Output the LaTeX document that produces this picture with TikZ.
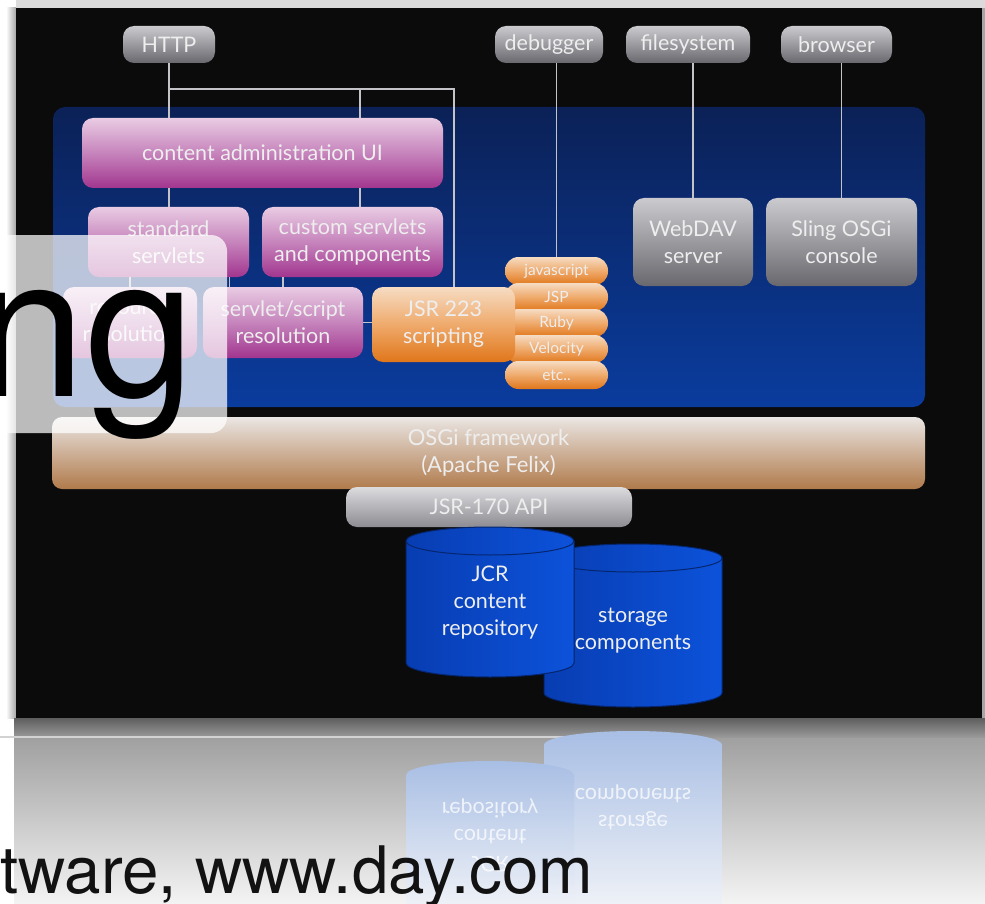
\documentclass[tikz,border=0pt]{standalone}
\usepackage{fontspec}
\setmainfont{Lato}
\newfontfamily\helvfont{TeX Gyre Heros}
\usetikzlibrary{positioning}

\definecolor{slidebg}{HTML}{0B0B0B}
\definecolor{paneltop}{HTML}{0B2157}
\definecolor{panelbot}{HTML}{0A3C9E}
\definecolor{graytop}{HTML}{CBCBCF}
\definecolor{graybot}{HTML}{68686E}
\definecolor{pinktop}{HTML}{E9CBE3}
\definecolor{pinkmid}{HTML}{C684BC}
\definecolor{pinkbot}{HTML}{A2358F}
\definecolor{orantop}{HTML}{F6DCC3}
\definecolor{oranmid}{HTML}{EFAA6C}
\definecolor{oranbot}{HTML}{E0761A}
\definecolor{osgitop}{HTML}{EAE6E3}
\definecolor{osgibot}{HTML}{B07A4B}
\definecolor{apitop}{HTML}{DCDCDF}
\definecolor{apibot}{HTML}{8C8C92}
\definecolor{cyldark}{HTML}{083DB2}
\definecolor{cyllight}{HTML}{0C52DA}
\definecolor{cylrim}{HTML}{05266F}
\definecolor{wire}{HTML}{C4C4C8}
\definecolor{lbl}{HTML}{EEEEEE}
\definecolor{shadowtop}{HTML}{5E5E5E}
\definecolor{shadowbot}{HTML}{9C9C9C}
\definecolor{floortop}{HTML}{A0A0A0}
\definecolor{floorbot}{HTML}{F4F4F4}
\definecolor{floorline}{HTML}{D2D2D2}
\definecolor{refltop}{HTML}{A8BEE4}
\definecolor{reflbot}{HTML}{EEF1F7}

\begin{document}
\begin{tikzpicture}[x=1pt, y=-1pt,
    wire/.style={draw=wire, line width=1.6pt},
    box/.style={rounded corners=11pt, inner sep=0pt, align=center, text=lbl,
        font=\fontsize{21.5}{27}\selectfont},
    graybox/.style={box, top color=graytop, bottom color=graybot},
    topbox/.style={graybox, minimum height=37pt},
    pinkbox/.style={box, top color=pinktop, bottom color=pinkbot, middle color=pinkmid},
    orangebox/.style={box, top color=orantop, bottom color=oranbot, middle color=oranmid},
    pill/.style={orangebox, rounded corners=13.5pt, minimum width=103pt, minimum height=28pt,
        font=\fontsize{15.5}{16}\selectfont},
    cylbody/.style={left color=cyldark, right color=cyllight, draw=cylrim, line width=1pt},
    cyltext/.style={align=center, text=lbl, font=\fontsize{21.5}{27}\selectfont},
    refltext/.style={cyltext, yscale=-1, text=white, text opacity=0.75}]

    \useasboundingbox (0,0) rectangle (985,904);
    \clip (0,0) rectangle (985,904);

    % page and slide
    \fill[white] (0,0) rectangle (985,904);
    \fill[color=black!14] (16,0) rectangle (985,8);
    \shade[left color=white, right color=black!35] (6,8) rectangle (16,718);
    \fill[color=black!35] (982,8) rectangle (985,718);
    \node[fill=slidebg, inner sep=0pt, minimum width=966pt, minimum height=710pt] (slide) at (499,363) {};
    \node[top color=paneltop, bottom color=panelbot, rounded corners=12pt, inner sep=0pt,
        minimum width=872pt, minimum height=300pt] (panel) at (489,257) {};

    \node[topbox, minimum width=92pt] (http) at (169,44.5) {HTTP};
    \node[topbox, minimum width=108pt] (dbg) at (549,44.5) {debugger};
    \node[topbox, minimum width=124pt] (fsys) at (688,44.5) {filesystem};
    \node[topbox, minimum width=111pt] (brws) at (836.5,44.5) {browser};

    \node[pinkbox, minimum width=361pt, minimum height=70pt] (cadmin) at (262.5,153) {content administration UI};
    \node[pinkbox, minimum width=161pt, minimum height=70pt] (stdsrv) at (168.5,242) {standard\\servlets};
    \node[pinkbox, minimum width=181pt, minimum height=70pt] (custsrv) at (352.5,242) {custom servlets\\and components};
    \node[pinkbox, minimum width=134pt, minimum height=71pt] (resres) at (130,322.5) {resource\\resolution};
    \node[pinkbox, minimum width=160pt, minimum height=71pt] (scrres) at (283,322.5) {servlet/script\\resolution};

    \node[pill] (js) at (556.5,271) {javascript};
    \node[pill] (jsp) at (556.5,297) {JSP};
    \node[pill] (ruby) at (556.5,323) {Ruby};
    \node[pill] (vel) at (556.5,349) {Velocity};
    \node[pill] (etc) at (556.5,375) {etc..};
    \node[orangebox, minimum width=143pt, minimum height=75pt] (jsr223) at (443.5,324.5) {JSR 223\\scripting};

    \node[graybox, minimum width=120pt, minimum height=88pt] (webdav) at (693,242) {WebDAV\\server};
    \node[graybox, minimum width=151pt, minimum height=88pt] (console) at (841.5,242) {Sling OSGi\\console};

    % connectors
    \coordinate (tapl) at (169,89);
    \coordinate (tapm) at (360,89);
    \coordinate (tapr) at (454,89);
    \draw[wire] (http.south) -- (http.south |- cadmin.north);
    \draw[wire] (tapl) -- (tapr) -- (tapr |- jsr223.north);
    \draw[wire] (tapm) -- (tapm |- cadmin.north);
    \draw[wire] (tapm |- cadmin.south) -- (tapm |- custsrv.north);
    \draw[wire] (http.south |- cadmin.south) -- (http.south |- stdsrv.north);
    \draw[wire] (resres.north) -- (resres.north |- stdsrv.south);
    \draw[wire] ([xshift=61pt]stdsrv.south) -- ([xshift=61pt]stdsrv.south |- scrres.north);
    \draw[wire] (scrres.north) -- (scrres.north |- custsrv.south);
    \draw[wire] (scrres.east) -- (scrres.east -| jsr223.west);
    \draw[wire] (js.north) -- (js.north |- dbg.south);
    \draw[wire] (webdav.north) -- (webdav.north |- fsys.south);
    \draw[wire] (console.north) -- (console.north |- brws.south);

    \node[box, top color=osgitop, bottom color=osgibot, rounded corners=10pt, font=\fontsize{22}{27}\selectfont,
        minimum width=873pt, minimum height=72pt] (osgi) at (488.5,453) {OSGi framework\\(Apache Felix)};
    \node[box, top color=apitop, bottom color=apibot, minimum width=286pt, minimum height=40pt] (jsr170) at (489,507) {JSR-170 API};

    % repositories
    \filldraw[cylbody] (544,558) -- (544,693) arc[start angle=180, end angle=0, x radius=89, y radius=14]
        -- (722,558) arc[start angle=0, end angle=-180, x radius=89, y radius=14] -- cycle;
    \draw[draw=cylrim, line width=1pt] (544,558) arc[start angle=180, end angle=0, x radius=89, y radius=14];
    \node[cyltext] (store) at (633,631) {storage\\components};

    \filldraw[cylbody] (406,541) -- (406,663) arc[start angle=180, end angle=0, x radius=84, y radius=14]
        -- (574,541) arc[start angle=0, end angle=-180, x radius=84, y radius=14] -- cycle;
    \draw[draw=cylrim, line width=1pt] (406,541) arc[start angle=180, end angle=0, x radius=84, y radius=14];
    \node[cyltext] (jcr) at (490,603) {JCR\\content\\repository};

    % floor and reflection
    \shade[top color=shadowtop, bottom color=shadowbot] (14,718) rectangle (985,738);
    \shade[top color=floortop, bottom color=floorbot] (14,738) rectangle (985,904);
    \draw[color=floorline, line width=1.5pt] (0,737) -- (672,737);

    \shade[top color=refltop, bottom color=reflbot] (544,904) -- (544,745)
        arc[start angle=180, end angle=360, x radius=89, y radius=14] -- (722,904) -- cycle;
    \node[refltext] (storerefl) at (633,807) {storage\\components};
    \shade[top color=refltop, bottom color=reflbot] (406,904) -- (406,775)
        arc[start angle=180, end angle=360, x radius=84, y radius=14] -- (574,904) -- cycle;
    \node[refltext] (jcrrefl) at (490,835) {JCR\\content\\repository};

    % title overlay
    \node[fill=white, fill opacity=0.72, rounded corners=16pt, inner sep=0pt,
        minimum width=260pt, minimum height=198pt] (ngpanel) at (97,334) {};
    \node[anchor=base west, inner sep=0pt, font=\helvfont\fontsize{197}{200}\selectfont] (ngtext) at (-24,396) {ng};
    \node[anchor=base west, inner sep=0pt, font=\helvfont\fontsize{65.5}{70}\selectfont, text=black!93] (footer) at (0,893) {tware, www.day.com};

\end{tikzpicture}
\end{document}
